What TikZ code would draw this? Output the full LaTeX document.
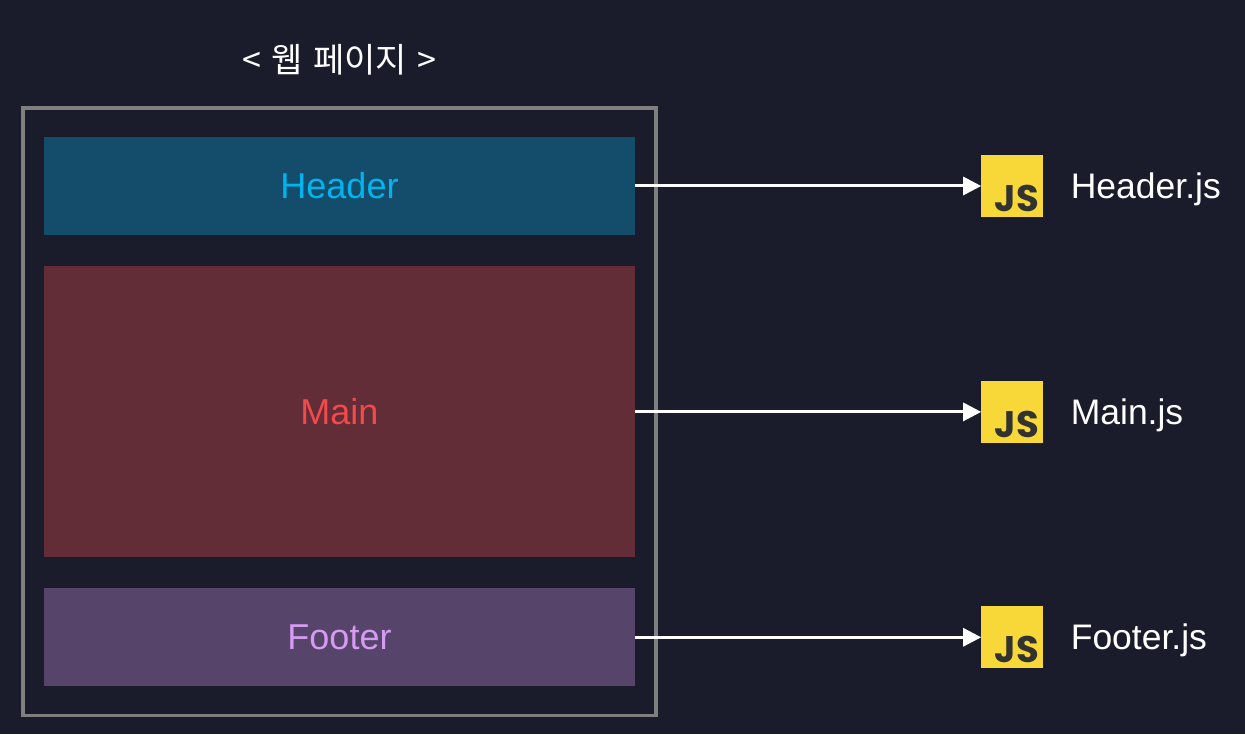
\documentclass[tikz,border=0pt]{standalone}
\usepackage{fontspec}
\setmainfont{Liberation Sans}
\newfontfamily\krfont[WordSpace=1.35]{Noto Sans CJK KR}
\newfontfamily\logofont{Poppins}
\usetikzlibrary{positioning,arrows.meta,fit}
\definecolor{page}{HTML}{1A1C2B}
\definecolor{frameline}{HTML}{7F7F80}
\definecolor{headc}{HTML}{134D6B}
\definecolor{headtext}{HTML}{00B4F0}
\definecolor{mainc}{HTML}{622D37}
\definecolor{maintext}{HTML}{F04A4A}
\definecolor{footc}{HTML}{56446B}
\definecolor{foottext}{HTML}{D49BF0}
\definecolor{jsc}{HTML}{F7D838}
\definecolor{jstext}{HTML}{323330}

\begin{document}
\begin{tikzpicture}[
  x=1pt, y=1pt,
  box/.style={minimum width=591pt, inner sep=0pt, font=\fontsize{36}{40}\selectfont},
  hea/.style={box, fill=headc, text=headtext, minimum height=98pt},
  mai/.style={box, fill=mainc, text=maintext, minimum height=291pt},
  foo/.style={box, fill=footc, text=foottext, minimum height=98pt},
  logo/.style={fill=jsc, minimum size=62pt, inner sep=0pt},
  logotext/.style={text=jstext, inner sep=0pt, font=\logofont\fontsize{37}{37}\selectfont\bfseries},
  file/.style={text=white, inner sep=0pt, yshift=-3.5pt, font=\fontsize{35.5}{40}\selectfont},
  arr/.style={-{Triangle[length=18pt,width=18pt]}, draw=white, line width=3pt}]
  \path[fill=page] (0,0) rectangle (1245,734);
  \node[hea] (head) at (339.5,548) {Header};
  \node[mai, below=31pt of head] (main) {Main};
  \node[foo, below=30.5pt of main] (foot) {Footer};
  \node[draw=frameline, line width=3.5pt, inner xsep=21pt, inner ysep=29pt, fit=(head)(main)(foot)] (page) {};
  \node[text=white, inner sep=0pt, font=\krfont\fontsize{34}{38}\selectfont, above=31pt of page] (title) {< 웹 페이지 >};

  \node[logo, right=346pt of head] (headjs) {};
  \node[logo, right=346pt of main] (mainjs) {};
  \node[logo, right=346pt of foot] (footjs) {};
  \node[logotext, anchor=base east] at ([xshift=-4.5pt,yshift=6pt]headjs.south east) (headjst) {JS};
  \node[logotext, anchor=base east] at ([xshift=-4.5pt,yshift=6pt]mainjs.south east) (mainjst) {JS};
  \node[logotext, anchor=base east] at ([xshift=-4.5pt,yshift=6pt]footjs.south east) (footjst) {JS};
  \node[file, right=27pt of headjs] (headfile) {Header.js};
  \node[file, right=27pt of mainjs] (mainfile) {Main.js};
  \node[file, right=27pt of footjs] (footfile) {Footer.js};

  \draw[arr] (head) -- (headjs);
  \draw[arr] (main) -- (mainjs);
  \draw[arr] (foot) -- (footjs);
\end{tikzpicture}
\end{document}
